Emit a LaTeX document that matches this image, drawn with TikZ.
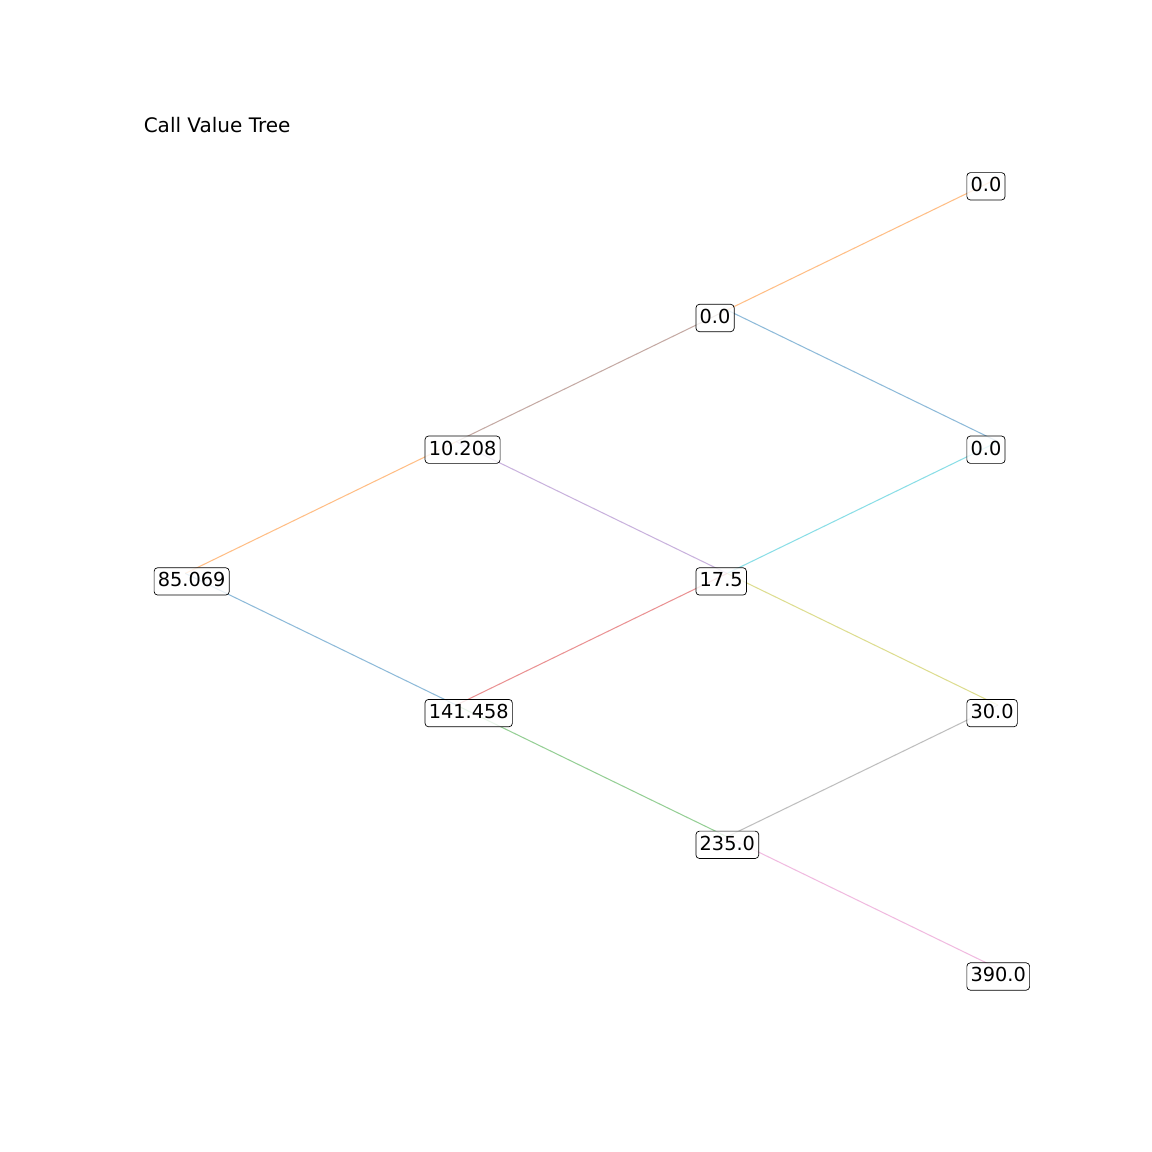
\documentclass[tikz,border=0pt]{standalone}
\usepackage{fontspec}
\setmainfont{DejaVu Sans}
\definecolor{tabblue}{HTML}{1F77B4}
\definecolor{taborange}{HTML}{FF7F0E}
\definecolor{tabgreen}{HTML}{2CA02C}
\definecolor{tabred}{HTML}{D62728}
\definecolor{tabpurple}{HTML}{9467BD}
\definecolor{tabbrown}{HTML}{8C564B}
\definecolor{tabpink}{HTML}{E377C2}
\definecolor{tabgray}{HTML}{7F7F7F}
\definecolor{tabolive}{HTML}{BCBD22}
\definecolor{tabcyan}{HTML}{17BECF}
\newcommand{\treefont}{\fontsize{13.9pt}{16pt}\selectfont}
\begin{document}
\begin{tikzpicture}[x=0.72pt,y=-0.72pt,
    val/.style={draw=black, line width=0.5pt, rounded corners=2.5pt, fill=white,
        fill opacity=0.8, text opacity=1, inner xsep=2.7pt, inner ysep=3.6pt,
        text height=10.1pt, text depth=2.4pt, anchor=west, font=\treefont},
    edge/.style={line width=0.75pt, draw opacity=0.5}]
        \useasboundingbox[fill=white] (0,0) rectangle (1152,1152);
        \node[anchor=base west, inner sep=0pt, font=\fontsize{14.4pt}{16pt}\selectfont] (title) at (143.5,132.5) {Call Value Tree};

        % points of the tree
        \coordinate (p0) at (185.3,573.4);
        \coordinate (p1u) at (456.2,441.7);
        \coordinate (p1d) at (456.2,705.1);
        \coordinate (p2uu) at (727.1,310.0);
        \coordinate (p2ud) at (727.1,573.4);
        \coordinate (p2dd) at (727.1,836.8);
        \coordinate (p3uuu) at (998,178.3);
        \coordinate (p3uud) at (998,441.7);
        \coordinate (p3udd) at (998,705.1);
        \coordinate (p3ddd) at (998,968.5);

        \draw[edge,taborange] (p0) -- (p1u);
        \draw[edge,tabblue] (p0) -- (p1d);
        \draw[edge,tabbrown] (p1u) -- (p2uu);
        \draw[edge,tabpurple] (p1u) -- (p2ud);
        \draw[edge,tabred] (p1d) -- (p2ud);
        \draw[edge,tabgreen] (p1d) -- (p2dd);
        \draw[edge,taborange] (p2uu) -- (p3uuu);
        \draw[edge,tabblue] (p2uu) -- (p3uud);
        \draw[edge,tabcyan] (p2ud) -- (p3uud);
        \draw[edge,tabolive] (p2ud) -- (p3udd);
        \draw[edge,tabgray] (p2dd) -- (p3udd);
        \draw[edge,tabpink] (p2dd) -- (p3ddd);

        % value boxes
        \node[val] (v0) at (153.8,581.4) {85.069};
        \node[val] (v1u) at (424.7,449.7) {10.208};
        \node[val] (v1d) at (424.7,713.1) {141.458};
        \node[val] (v2uu) at (695.6,318.0) {0.0};
        \node[val] (v2ud) at (695.6,581.4) {17.5};
        \node[val] (v2dd) at (695.6,844.8) {235.0};
        \node[val] (v3uuu) at (966.5,186.3) {0.0};
        \node[val] (v3uud) at (966.5,449.7) {0.0};
        \node[val] (v3udd) at (966.5,713.1) {30.0};
        \node[val] (v3ddd) at (966.5,976.5) {390.0};

    \end{tikzpicture}
\end{document}
